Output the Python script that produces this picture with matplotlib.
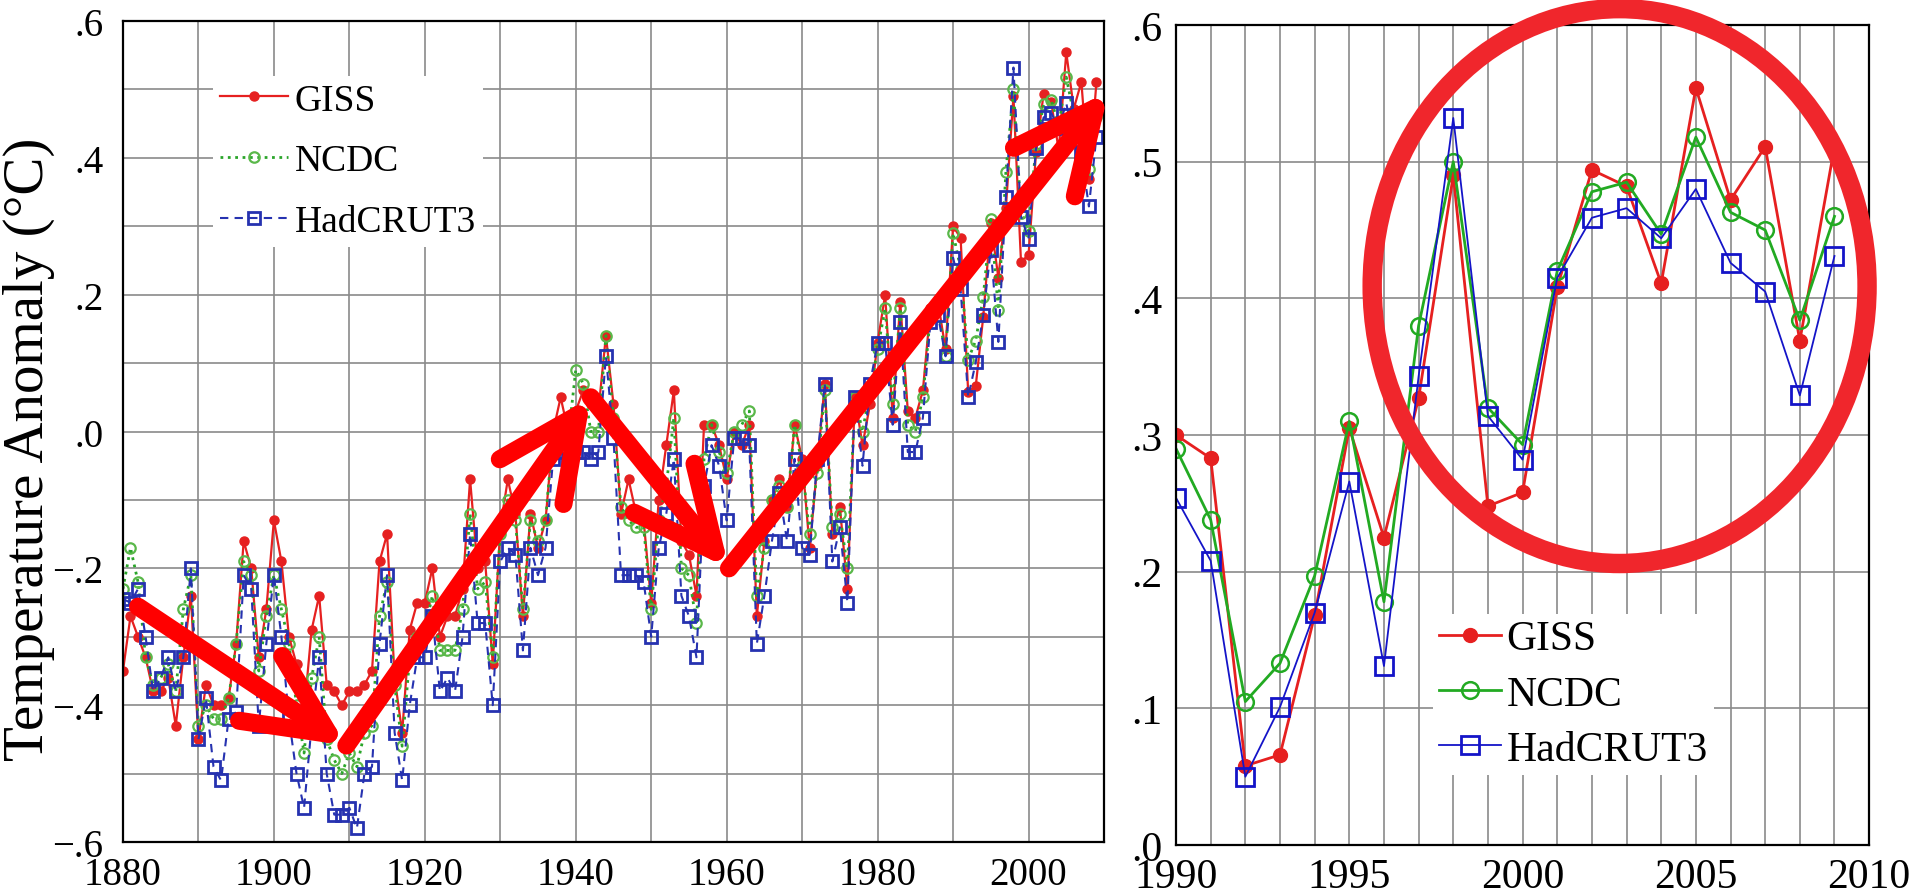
import numpy as np
import matplotlib.pyplot as plt
from matplotlib.patches import Ellipse

plt.rcParams['font.family'] = ['Liberation Serif', 'DejaVu Serif']

# annual anomalies, 1880-2009 (left panel)
years_long = np.arange(1880, 2010)

giss_long = [
    -0.35, -0.27, -0.30, -0.33, -0.38, -0.38, -0.36, -0.43, -0.33, -0.24,
    -0.45, -0.37, -0.40, -0.40, -0.39, -0.31, -0.16, -0.20, -0.33, -0.26,
    -0.13, -0.19, -0.30, -0.34, -0.41, -0.29, -0.24, -0.37, -0.38, -0.40,
    -0.38, -0.38, -0.37, -0.35, -0.19, -0.15, -0.36, -0.44, -0.29, -0.25,
    -0.25, -0.20, -0.30, -0.27, -0.27, -0.23, -0.07, -0.20, -0.19, -0.34,
    -0.14, -0.07, -0.12, -0.27, -0.12, -0.17, -0.13, 0.00, 0.05, 0.00,
    0.03, 0.06, 0.04, 0.03, 0.14, 0.04, -0.12, -0.07, -0.12, -0.13,
    -0.25, -0.10, -0.02, 0.06, -0.16, -0.18, -0.24, 0.01, 0.01, -0.02,
    -0.07, 0.00, -0.02, 0.01, -0.27, -0.16, -0.10, -0.07, -0.11, 0.01,
    -0.04, -0.17, -0.05, 0.07, -0.15, -0.11, -0.23, 0.05, -0.02, 0.04,
    0.13, 0.20, 0.02, 0.19, 0.03, 0.02, 0.06, 0.18, 0.19, 0.12,
    0.30, 0.283, 0.058, 0.066, 0.168, 0.305, 0.225, 0.327, 0.49, 0.248,
    0.258, 0.408, 0.494, 0.482, 0.411, 0.554, 0.472, 0.511, 0.369, 0.511,
]

ncdc_long = [
    -0.23, -0.17, -0.22, -0.33, -0.37, -0.36, -0.34, -0.38, -0.26, -0.21,
    -0.43, -0.40, -0.42, -0.42, -0.39, -0.31, -0.19, -0.21, -0.35, -0.27,
    -0.21, -0.26, -0.31, -0.40, -0.47, -0.36, -0.30, -0.45, -0.48, -0.50,
    -0.47, -0.49, -0.44, -0.43, -0.27, -0.22, -0.37, -0.46, -0.33, -0.30,
    -0.29, -0.24, -0.32, -0.32, -0.32, -0.26, -0.12, -0.23, -0.22, -0.33,
    -0.15, -0.10, -0.13, -0.26, -0.13, -0.16, -0.13, 0.00, 0.01, -0.01,
    0.09, 0.07, 0.00, 0.00, 0.14, 0.02, -0.11, -0.13, -0.14, -0.14,
    -0.26, -0.13, -0.08, 0.02, -0.20, -0.21, -0.28, -0.04, 0.01, -0.03,
    -0.06, 0.00, 0.01, 0.03, -0.24, -0.17, -0.10, -0.08, -0.11, 0.01,
    -0.05, -0.15, -0.06, 0.06, -0.14, -0.12, -0.20, 0.05, 0.00, 0.06,
    0.12, 0.18, 0.04, 0.18, 0.01, 0.00, 0.05, 0.17, 0.18, 0.11,
    0.29, 0.238, 0.105, 0.133, 0.197, 0.310, 0.178, 0.380, 0.500, 0.320,
    0.293, 0.420, 0.478, 0.485, 0.447, 0.518, 0.463, 0.450, 0.384, 0.460,
]

hadcrut_long = [
    -0.245, -0.25, -0.23, -0.30, -0.38, -0.36, -0.33, -0.38, -0.33, -0.20,
    -0.45, -0.39, -0.49, -0.51, -0.42, -0.41, -0.21, -0.23, -0.43, -0.31,
    -0.21, -0.30, -0.42, -0.50, -0.55, -0.43, -0.33, -0.50, -0.56, -0.56,
    -0.55, -0.58, -0.50, -0.49, -0.31, -0.21, -0.44, -0.51, -0.40, -0.33,
    -0.33, -0.27, -0.38, -0.36, -0.38, -0.30, -0.15, -0.28, -0.28, -0.40,
    -0.19, -0.17, -0.18, -0.32, -0.17, -0.21, -0.17, -0.04, -0.03, -0.04,
    -0.03, -0.03, -0.04, -0.03, 0.11, -0.01, -0.21, -0.21, -0.21, -0.22,
    -0.30, -0.17, -0.12, -0.04, -0.24, -0.27, -0.33, -0.08, -0.02, -0.05,
    -0.13, -0.01, -0.01, -0.02, -0.31, -0.24, -0.16, -0.09, -0.16, -0.04,
    -0.17, -0.18, -0.04, 0.07, -0.19, -0.14, -0.25, 0.05, -0.05, 0.07,
    0.13, 0.13, 0.01, 0.16, -0.03, -0.03, 0.02, 0.16, 0.17, 0.11,
    0.254, 0.208, 0.050, 0.101, 0.170, 0.266, 0.131, 0.343, 0.532, 0.314,
    0.282, 0.415, 0.459, 0.466, 0.444, 0.480, 0.426, 0.405, 0.329, 0.431,
]

# close-up, 1990-2009 (right panel)
years_short = np.arange(1990, 2010)
giss_short = giss_long[-20:]
ncdc_short = ncdc_long[-20:]
hadcrut_short = hadcrut_long[-20:]

series_names = ['GISS', 'NCDC', 'HadCRUT3']

# trend arrows drawn over the long record: (start, end) in (year, anomaly)
arrow_segments = [
    ((1882.0, -0.256), (1909.6, -0.459)),
    ((1909.6, -0.459), (1942.0, 0.050)),
    ((1942.0, 0.050), (1960.3, -0.200)),
    ((1960.3, -0.200), (2010.6, 0.497)),
]

red = '#e62020'
green = '#2aa52a'
blue = '#2632b0'
grid_col = '#8a8a8a'

fig = plt.figure(figsize=(19.21, 8.95), dpi=100)
ax1 = fig.add_axes([0.0640, 0.0581, 0.5107, 0.9173])
ax2 = fig.add_axes([0.6122, 0.0547, 0.3608, 0.9162])

# ---- left panel ----
ax1.plot(years_long, giss_long, '-', color=red, lw=1.6, marker='o', ms=6.5,
         mfc=red, mec=red, label=series_names[0])
ax1.plot(years_long, ncdc_long, ':', color=green, lw=2.0, marker='o', ms=7.5,
         mfc='none', mec='#5ab84a', mew=1.6, label=series_names[1])
ax1.plot(years_long, hadcrut_long, '--', color=blue, lw=1.5, dashes=(4, 3),
         marker='s', ms=8.5, mfc='none', mec=blue, mew=2.0, label=series_names[2])

ax1.set_xlim(1880, 2010)
ax1.set_ylim(-0.6, 0.6)
ax1.set_xticks(np.arange(1880, 2011, 10))
ax1.set_xticklabels([str(y) if y % 20 == 0 and y < 2010 else '' for y in range(1880, 2011, 10)])
yt1 = np.round(np.arange(-0.6, 0.61, 0.1), 1)
ax1.set_yticks(yt1)
lab1 = []
for v in yt1:
    if round(v * 10) % 2 != 0:
        lab1.append('')
    elif v < 0:
        lab1.append('\u2212.%d' % round(-v * 10))
    else:
        lab1.append('.%d' % round(v * 10))
ax1.set_yticklabels(lab1)
ax1.grid(True, color=grid_col, lw=1.2)
ax1.tick_params(length=0, labelsize=28)
ax1.tick_params(axis='x', pad=10)
ax1.tick_params(axis='y', pad=14)
ax1.set_ylabel('Temperature Anomaly (\u00b0C)', fontsize=41)
ax1.yaxis.set_label_coords(-0.069, 0.479)

leg1 = ax1.legend(loc='upper left', bbox_to_anchor=(212.5 / 1921, 1 - 76.6 / 895),
                  bbox_transform=fig.transFigure, fontsize=27, frameon=True,
                  fancybox=False, edgecolor='none', facecolor='white', framealpha=1,
                  handlelength=1.8, handletextpad=0.19, labelspacing=0.7,
                  borderpad=0.2, borderaxespad=0)

for (x0, y0), (x1, y1) in arrow_segments:
    ax1.annotate('', xy=(x1, y1), xytext=(x0, y0), annotation_clip=False,
                 arrowprops=dict(arrowstyle='->, head_length=2.95, head_width=1.4',
                                 mutation_scale=20, lw=13, color='#ff0000',
                                 shrinkA=0, shrinkB=0, capstyle='round',
                                 joinstyle='round'), zorder=10)

# ---- right panel ----
ax2.plot(years_short, giss_short, '-', color=red, lw=2.0, marker='o', ms=10,
         mfc=red, mec=red, label=series_names[0])
ax2.plot(years_short, ncdc_short, '-', color='#22aa22', lw=2.0, marker='o', ms=12,
         mfc='none', mec='#22aa22', mew=1.8, label=series_names[1])
ax2.plot(years_short, hadcrut_short, '-', color='#1414c8', lw=1.3, marker='s', ms=13,
         mfc='none', mec='#1414c8', mew=2.0, label=series_names[2])

ax2.set_xlim(1990, 2010)
ax2.set_ylim(0.0, 0.6)
ax2.set_xticks(np.arange(1990, 2011, 1))
ax2.set_xticklabels([str(y) if y % 5 == 0 else '' for y in range(1990, 2011)])
yt2 = np.round(np.arange(0.0, 0.61, 0.1), 1)
ax2.set_yticks(yt2)
ax2.set_yticklabels(['.%d' % round(v * 10) for v in yt2])
ax2.grid(True, color=grid_col, lw=1.2)
ax2.tick_params(length=0, labelsize=30)
ax2.tick_params(axis='x', pad=9)
ax2.tick_params(axis='y', pad=10)

leg2 = ax2.legend(loc='upper left', bbox_to_anchor=(1433 / 1921, 1 - 614.6 / 895),
                  bbox_transform=fig.transFigure, fontsize=30, frameon=True,
                  fancybox=False, edgecolor='none', facecolor='white', framealpha=1,
                  handlelength=1.47, handletextpad=0.15, labelspacing=0.4,
                  borderpad=0.15, borderaxespad=0)

ring = Ellipse((2002.8, 0.409), 14.28, 0.406, fill=False, ec='#f0262c', lw=14,
               clip_on=False, zorder=10)
ax2.add_patch(ring)

for ax in (ax1, ax2):
    for s in ax.spines.values():
        s.set_linewidth(1.6)
        s.set_color('black')

fig.savefig('out.png', dpi=100)
